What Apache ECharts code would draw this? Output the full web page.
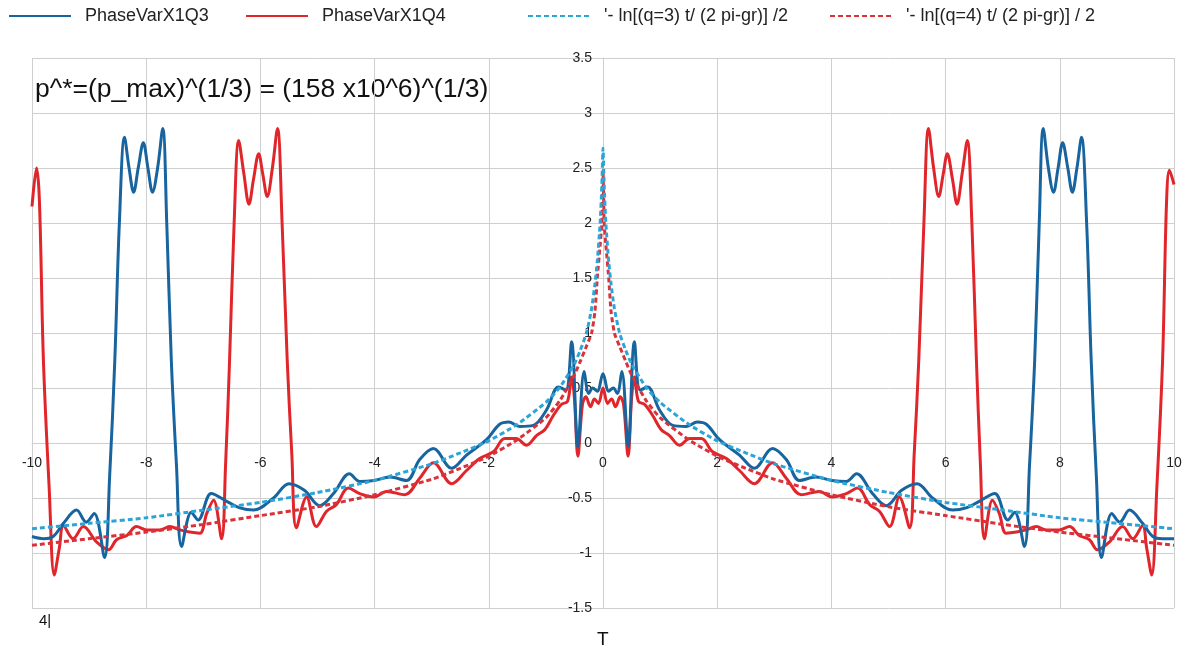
<!DOCTYPE html>
<html>
<head>
<meta charset="utf-8">
<script src="https://cdn.jsdelivr.net/npm/echarts@6/dist/echarts.min.js"></script>
<style>
html,body{margin:0;padding:0;background:#fff;}
#chart{width:1195px;height:652px;}
</style>
</head>
<body>
<div id="chart"></div>
<script>
// ---- data ----
const tQ3 = [-10,-9.8,-9.63,-9.45,-9.22,-9.05,-8.91,-8.73,-8.64,-8.55,-8.47,-8.38,-8.3,-8.22,-8.14,-8.05,-7.97,-7.89,-7.8,-7.71,-7.64,-7.56,-7.47,-7.38,-7.21,-7.09,-6.86,-6.59,-6.36,-6.12,-5.77,-5.5,-5.23,-4.96,-4.72,-4.44,-4.26,-4.01,-3.73,-3.44,-3.21,-2.97,-2.65,-2.39,-2.04,-1.81,-1.65,-1.46,-1.22,-0.99,-0.78,-0.65,-0.55,-0.44,-0.33,-0.25,-0.18,-0.1,
  0,0.1,0.18,0.25,0.33,0.44,0.55,0.65,0.78,0.99,1.22,1.46,1.65,1.81,2.04,2.39,2.65,2.97,3.21,3.44,3.73,4.01,4.26,4.44,4.72,4.96,5.23,5.5,5.77,6.12,6.36,6.59,6.86,7.09,7.21,7.38,7.47,7.56,7.64,7.71,7.8,7.89,7.97,8.05,8.14,8.22,8.3,8.38,8.47,8.55,8.64,8.73,8.91,9.05,9.22,9.45,9.63,9.8,10];
const vQ3 = [-0.85,-0.87,-0.85,-0.73,-0.61,-0.72,-0.64,-1.04,-0.3,0.75,2.0,2.78,2.5,2.28,2.5,2.73,2.5,2.28,2.5,2.86,2.0,0.75,-0.2,-0.94,-0.63,-0.7,-0.46,-0.53,-0.59,-0.61,-0.5,-0.37,-0.43,-0.57,-0.46,-0.28,-0.35,-0.34,-0.31,-0.34,-0.15,-0.05,-0.23,-0.11,0.03,0.17,0.19,0.15,0.16,0.3,0.51,0.48,0.92,-0.03,0.65,0.45,0.5,0.47,
  0.63,0.47,0.5,0.45,0.65,-0.03,0.92,0.48,0.51,0.3,0.16,0.15,0.19,0.17,0.03,-0.11,-0.23,-0.05,-0.15,-0.34,-0.31,-0.34,-0.35,-0.28,-0.46,-0.57,-0.43,-0.37,-0.5,-0.61,-0.59,-0.53,-0.46,-0.7,-0.63,-0.94,-0.2,0.75,2.0,2.86,2.5,2.28,2.5,2.73,2.5,2.28,2.5,2.78,2.0,0.75,-0.3,-1.04,-0.64,-0.72,-0.61,-0.73,-0.85,-0.87,-0.87];

const tQ4 = [-10,-9.92,-9.87,-9.8,-9.7,-9.61,-9.52,-9.45,-9.28,-9.1,-8.87,-8.66,-8.52,-8.34,-8.17,-7.99,-7.76,-7.59,-7.41,-7.24,-7.06,-6.94,-6.82,-6.68,-6.61,-6.54,-6.46,-6.38,-6.29,-6.2,-6.12,-6.03,-5.96,-5.88,-5.79,-5.7,-5.62,-5.53,-5.45,-5.37,-5.19,-5.02,-4.84,-4.67,-4.46,-4.26,-4.01,-3.79,-3.47,-3.21,-2.97,-2.65,-2.39,-2.16,-1.92,-1.72,-1.52,-1.34,-1.16,-1.02,-0.87,-0.73,-0.62,-0.55,-0.5,-0.44,-0.36,-0.3,-0.22,-0.15,-0.08,
  0,0.08,0.15,0.22,0.3,0.36,0.44,0.5,0.55,0.62,0.73,0.87,1.02,1.16,1.34,1.52,1.72,1.92,2.16,2.39,2.65,2.97,3.21,3.47,3.79,4.01,4.26,4.46,4.67,4.84,5.02,5.19,5.37,5.45,5.53,5.62,5.7,5.79,5.88,5.96,6.03,6.12,6.2,6.29,6.38,6.46,6.54,6.61,6.68,6.82,6.94,7.06,7.24,7.41,7.59,7.76,7.99,8.17,8.34,8.52,8.66,8.87,9.1,9.28,9.45,9.52,9.61,9.7,9.8,9.87,9.92,10];
const vQ4 = [2.15,2.5,2.2,0.75,-0.4,-1.2,-0.95,-0.75,-0.87,-0.76,-0.9,-0.97,-0.88,-0.84,-0.76,-0.79,-0.79,-0.76,-0.79,-0.81,-0.82,-0.64,-0.52,-0.87,-0.2,0.75,2.0,2.75,2.45,2.17,2.4,2.63,2.45,2.24,2.5,2.86,2.0,0.75,-0.1,-0.77,-0.49,-0.76,-0.62,-0.56,-0.41,-0.46,-0.49,-0.44,-0.47,-0.32,-0.18,-0.37,-0.25,-0.14,-0.08,0.04,0.04,-0.02,0.07,0.12,0.25,0.35,0.38,0.6,0.4,-0.12,0.35,0.42,0.33,0.4,0.36,
  0.5,0.36,0.4,0.33,0.42,0.35,-0.12,0.4,0.6,0.38,0.35,0.25,0.12,0.07,-0.02,0.04,0.04,-0.08,-0.14,-0.25,-0.37,-0.18,-0.32,-0.47,-0.44,-0.49,-0.46,-0.41,-0.56,-0.62,-0.76,-0.49,-0.77,-0.1,0.75,2.0,2.86,2.5,2.24,2.45,2.63,2.4,2.17,2.45,2.75,2.0,0.75,-0.2,-0.87,-0.52,-0.64,-0.82,-0.81,-0.79,-0.76,-0.79,-0.79,-0.76,-0.84,-0.88,-0.97,-0.9,-0.76,-0.87,-0.75,-0.95,-1.2,-0.4,0.75,2.2,2.48,2.35];

const tFit = [-10,-9,-8,-7,-6,-5,-4,-3,-2.5,-2,-1.5,-1,-0.75,-0.5,-0.4,-0.29,-0.2,-0.14,-0.1,-0.05,-0.02,
  0,0.02,0.05,0.1,0.14,0.2,0.29,0.4,0.5,0.75,1,1.5,2,2.5,3,4,5,6,7,8,9,10];
const vFitQ3 = [-0.78,-0.73,-0.68,-0.61,-0.54,-0.45,-0.34,-0.19,-0.09,0.02,0.17,0.37,0.51,0.72,0.84,1.0,1.22,1.45,1.65,2.0,2.35,
  2.68,2.35,2.0,1.65,1.45,1.22,1.0,0.84,0.72,0.51,0.37,0.17,0.02,-0.09,-0.19,-0.34,-0.45,-0.54,-0.61,-0.68,-0.73,-0.78];
const vFitQ4 = [-0.93,-0.87,-0.81,-0.74,-0.66,-0.58,-0.47,-0.33,-0.23,-0.12,0.03,0.23,0.39,0.62,0.74,0.88,1.0,1.2,1.5,1.8,2.0,
  2.48,2.0,1.8,1.5,1.2,1.0,0.88,0.74,0.62,0.39,0.23,0.03,-0.12,-0.23,-0.33,-0.47,-0.58,-0.66,-0.74,-0.81,-0.87,-0.93];

const seriesNames = ['PhaseVarX1Q3','PhaseVarX1Q4',"'- ln[(q=3) t/ (2 pi-gr)] /2","'- ln[(q=4) t/ (2 pi-gr)] / 2"];
const annotation = 'p^*=(p_max)^(1/3) = (158 x10^6)^(1/3)';
const xAxisTitle = 'T';
const strayText = '4|';

function zip(t, v){ return t.map((x,i)=>[x, v[i]]); }

const FONT = '"Liberation Sans", Arial, Helvetica, sans-serif';
const C_Q3 = '#17649e', C_Q4 = '#e0252b', C_F3 = '#2ba4d8', C_F4 = '#d9323a';
const GRID = '#cfcfcf';

// plot box (pixels) and axis ranges
const G = {left:32, right:21, top:58, bottom:44};
const X_MIN = -10, X_MAX = 10, Y_MIN = -1.5, Y_MAX = 3.5;
const W = 1195, H = 652;
const plotW = W - G.left - G.right, plotH = H - G.top - G.bottom;
// offsets that put the axes through the origin
const yAxisOffset = -plotW * (0 - X_MIN) / (X_MAX - X_MIN);
const xAxisOffset = -plotH * (0 - Y_MIN) / (Y_MAX - Y_MIN);

const chart = echarts.init(document.getElementById('chart'), null, {renderer:'canvas'});

function leg(name, left){
  return {
    data:[name], left:left, top:7, padding:0, itemWidth:62, itemHeight:20,
    itemStyle:{opacity:0}, lineStyle:{width:2},
    textStyle:{fontFamily:FONT, fontSize:18, color:'#222', padding:[0,0,0,9]},
    selectedMode:false
  };
}

chart.setOption({
  animation:false,
  backgroundColor:'#fff',
  textStyle:{fontFamily:FONT},
  legend:[leg(seriesNames[0],8), leg(seriesNames[1],245), leg(seriesNames[2],527), leg(seriesNames[3],829)],
  grid:{left:G.left, right:G.right, top:G.top, bottom:G.bottom, containLabel:false, outerBoundsMode:'none'},
  xAxis:{
    type:'value', min:X_MIN, max:X_MAX, interval:2, position:'bottom', offset:xAxisOffset,
    axisLine:{show:true, onZero:false, lineStyle:{color:GRID, width:1}},
    axisTick:{show:false},
    axisLabel:{color:'#222', fontSize:14, margin:13, fontFamily:FONT, showMinLabel:true, showMaxLabel:true},
    splitLine:{show:true, lineStyle:{color:GRID, width:1}}
  },
  yAxis:{
    type:'value', min:Y_MIN, max:Y_MAX, interval:0.5, position:'left', offset:yAxisOffset,
    axisLine:{show:true, onZero:false, lineStyle:{color:GRID, width:1}},
    axisTick:{show:false},
    axisLabel:{color:'#222', fontSize:14, margin:11, fontFamily:FONT, showMinLabel:true, showMaxLabel:true},
    splitLine:{show:true, lineStyle:{color:GRID, width:1}}
  },
  graphic:[
    {type:'text', left:35, top:76, style:{text:annotation, font:'26.5px '+FONT, fill:'#111'}},
    {type:'text', left:597, top:630, style:{text:xAxisTitle, font:'19px '+FONT, fill:'#111'}},
    {type:'text', left:39, top:613, style:{text:strayText, font:'15px '+FONT, fill:'#111'}}
  ],
  series:[
    {name:seriesNames[0], type:'line', data:zip(tQ3,vQ3), symbol:'none', smooth:0.35, z:3,
      lineStyle:{color:C_Q3, width:3}, itemStyle:{color:C_Q3}},
    {name:seriesNames[1], type:'line', data:zip(tQ4,vQ4), symbol:'none', smooth:0.35, z:2,
      lineStyle:{color:C_Q4, width:3}, itemStyle:{color:C_Q4}},
    {name:seriesNames[2], type:'line', data:zip(tFit,vFitQ3), symbol:'none', smooth:0.2, z:5,
      lineStyle:{color:C_F3, width:3, type:[5,3]}, itemStyle:{color:C_F3}},
    {name:seriesNames[3], type:'line', data:zip(tFit,vFitQ4), symbol:'none', smooth:0.2, z:4,
      lineStyle:{color:C_F4, width:3, type:[5,3]}, itemStyle:{color:C_F4}}
  ]
});
</script>
</body>
</html>
